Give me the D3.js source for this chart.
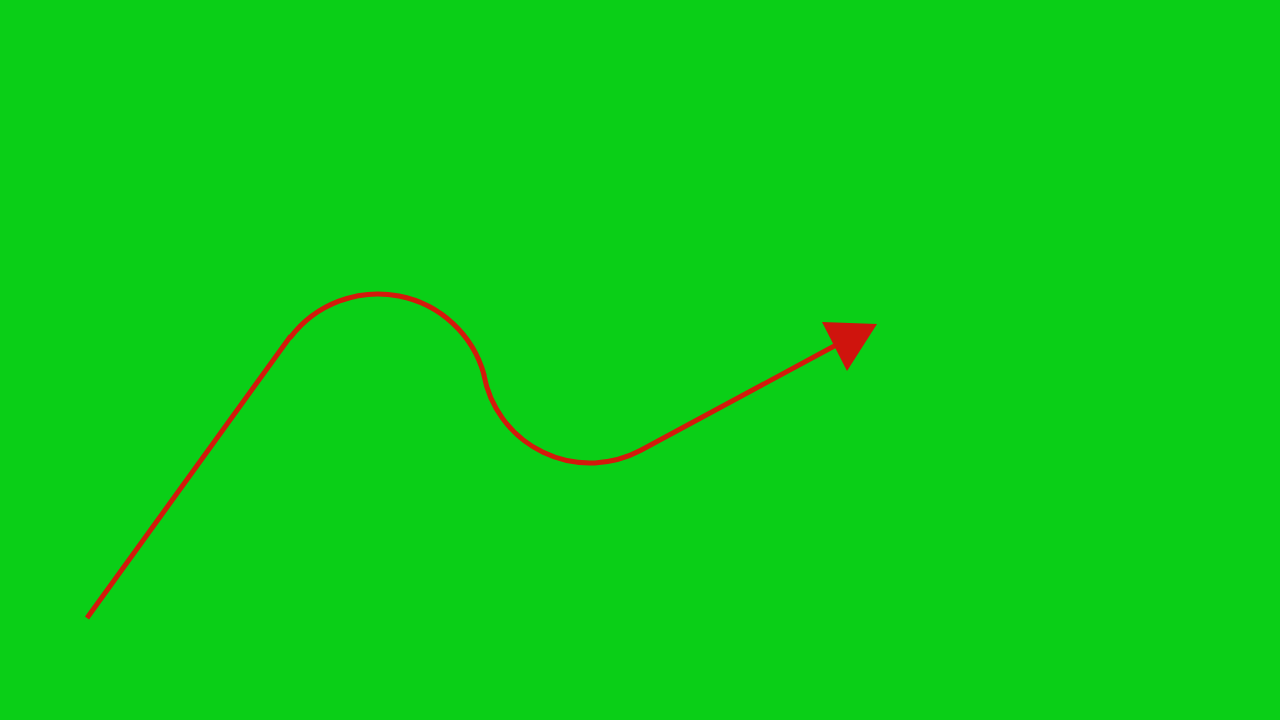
<!DOCTYPE html>
<html>
<head>
  <meta charset="utf-8">
  <script src="https://d3js.org/d3.v7.min.js"></script>
  <style>
    html, body { margin: 0; padding: 0; background: #0acf17; overflow: hidden; }
    svg { display: block; }
  </style>
</head>
<body>
<script>
  // path pieces, in picture units (0..1280 x 0..720)
  var startPoint = [87, 618];
  var lineEnds = [[290, 337], [640, 450], [838, 344]];
  // arcs: centre x, centre y, radius, start angle, end angle (degrees), direction
  var arcCentres = [[378, 404], [590, 355]];
  var arcRadii = [110, 108];
  var arcAngles = [[-142.7, -15.3], [169.3, 62.2]];
  var arcCounter = [false, true];
  var headPoints = [[822, 322], [877, 324], [847, 371]];

  var width = 1280, height = 720;
  var x = d3.scaleLinear().domain([0, 1280]).range([0, width]);
  var y = d3.scaleLinear().domain([0, 720]).range([0, height]);
  var rad = d3.scaleLinear().domain([0, 180]).range([0, Math.PI]);

  var svg = d3.select("body").append("svg")
      .attr("width", width)
      .attr("height", height);

  svg.append("rect")
      .attr("width", width)
      .attr("height", height)
      .attr("fill", "#0acf17");

  // build the curve: line, arc, arc, line
  var p = d3.path();
  p.moveTo(x(startPoint[0]), y(startPoint[1]));
  p.lineTo(x(lineEnds[0][0]), y(lineEnds[0][1]));
  arcCentres.forEach(function(c, i) {
    p.arc(x(c[0]), y(c[1]), x(arcRadii[i]),
          rad(arcAngles[i][0]), rad(arcAngles[i][1]), arcCounter[i]);
  });
  p.lineTo(x(lineEnds[2][0]), y(lineEnds[2][1]));

  svg.append("path")
      .attr("d", p.toString())
      .attr("fill", "none")
      .attr("stroke", "#d4190b")
      .attr("stroke-width", 5)
      .attr("stroke-linejoin", "round");

  //arrow head
  svg.append("path")
      .attr("d", d3.line().x(function(d){ return x(d[0]); }).y(function(d){ return y(d[1]); })(headPoints) + "Z")
      .attr("fill", "#cf140d");
</script>
</body>
</html>
